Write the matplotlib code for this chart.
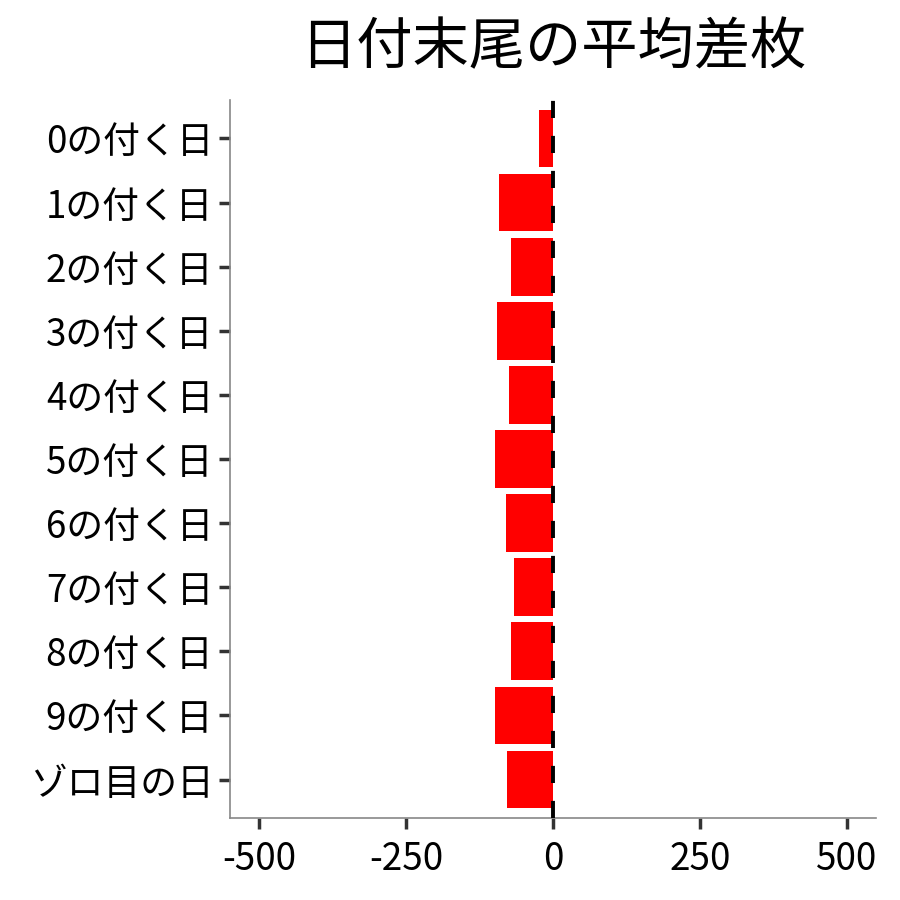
import matplotlib
matplotlib.use("Agg")
import matplotlib.pyplot as plt

plt.rcParams['font.family'] = ['Noto Sans CJK JP', 'DejaVu Sans']

categories = ["0の付く日", "1の付く日", "2の付く日", "3の付く日", "4の付く日",
              "5の付く日", "6の付く日", "7の付く日", "8の付く日", "9の付く日", "ゾロ目の日"]
values = [-24, -92, -71, -95, -75, -99, -80, -66, -71, -99, -78]
xticks = [-500, -250, 0, 250, 500]
xticklabels = ["-500", "-250", "0", "250", "500"]
title = "日付末尾の平均差枚"

fig = plt.figure(figsize=(9, 9), dpi=100)
ax = fig.add_axes([230/900, 82/900, 646/900, 718/900])

ypos = list(range(len(categories)))[::-1]
ax.barh(ypos, values, height=0.9, color="#FF0000", zorder=2)
ax.axvline(0, color="black", lw=2.8, ls=(0, (4.4, 4.6)), zorder=3)

ax.set_xlim(-550, 550)
ax.set_ylim(-0.6, len(categories) - 1 + 0.6)
ax.set_yticks(ypos)
ax.set_yticklabels(categories)
ax.set_xticks(xticks)
ax.set_xticklabels(xticklabels)

for s in ["top", "right"]:
    ax.spines[s].set_visible(False)
for s in ["left", "bottom"]:
    ax.spines[s].set_color("#888888")
    ax.spines[s].set_linewidth(1.2)

ax.tick_params(axis="both", length=8, width=2.5, color="#333333",
               labelsize=26.5, labelcolor="black", pad=4)
ax.tick_params(axis="x", pad=8)

fig.text(553/900, 1 - 48/900, title, ha="center", va="center", fontsize=40.5)

fig.savefig("out.png", dpi=100)
